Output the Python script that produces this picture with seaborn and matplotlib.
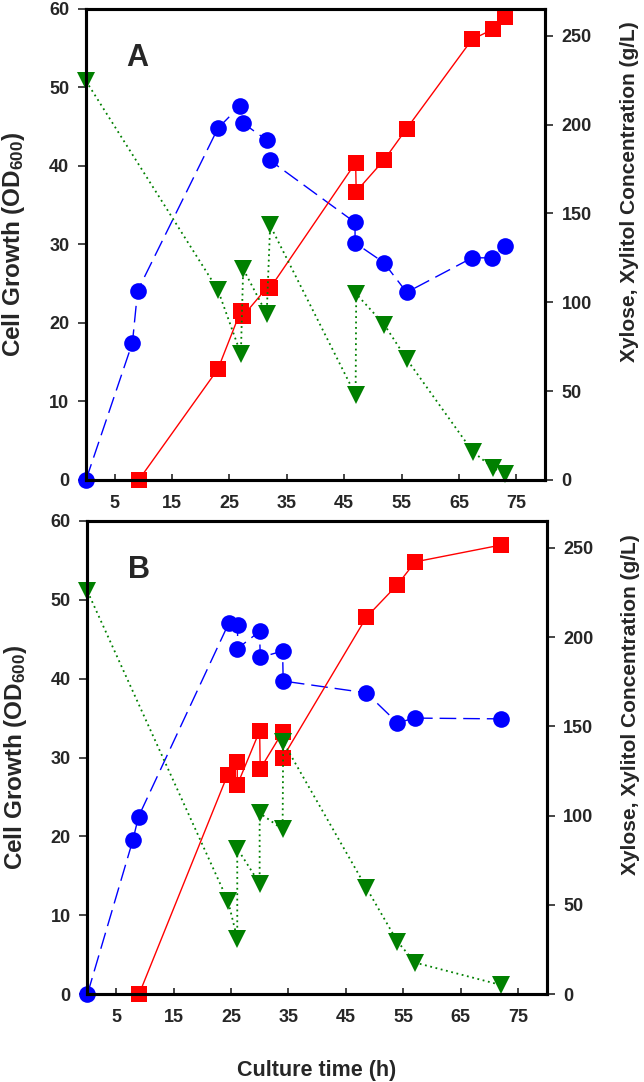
import matplotlib
matplotlib.use("Agg")
import matplotlib.pyplot as plt
import seaborn as sns

# ==========================================
# DATA
# ==========================================
# Panel A
tA_cell = [0, 8.1, 9.0, 23.0, 26.9, 27.3, 31.5, 32.1, 46.9, 46.9, 51.9, 55.9, 67.3, 70.8, 73.0]
odA = [0, 17.5, 24.1, 44.8, 47.7, 45.5, 43.3, 40.7, 32.8, 30.2, 27.7, 23.9, 28.3, 28.3, 29.8]
tA_xylitol = [9.2, 23.0, 27.0, 27.4, 31.7, 32.1, 47.0, 47.1, 52.0, 55.9, 67.3, 70.9, 73.0]
xylitolA = [0, 62.4, 95.3, 92.4, 108.8, 108.0, 178.5, 162.3, 180.2, 197.7, 247.9, 253.5, 260.3]
tA_xylose = [0, 23.0, 27.0, 27.4, 31.5, 32.1, 47.0, 47.1, 52.0, 55.9, 67.4, 70.9, 73.1]
xyloseA = [224.5, 106.9, 70.9, 118.8, 93.4, 143.2, 47.7, 104.7, 87.4, 68.0, 16.0, 6.9, 3.2]

# Panel B
tB_cell = [0, 7.9, 8.9, 24.6, 26.2, 26.1, 30.0, 30.1, 34.0, 34.1, 48.6, 54.0, 57.0, 72.0]
odB = [0, 19.5, 22.5, 47.0, 46.8, 43.8, 46.0, 42.7, 43.5, 39.7, 38.2, 34.4, 35.0, 34.9]
tB_xylitol = [9.0, 24.4, 26.1, 26.1, 30.0, 30.1, 34.0, 34.0, 48.6, 54.0, 57.1, 72.0]
xylitolB = [0, 122.7, 130.2, 117.1, 147.4, 126.1, 146.8, 132.3, 211.1, 229.3, 242.1, 251.5]
tB_xylose = [0, 24.5, 26.1, 26.1, 30.0, 30.0, 34.0, 34.1, 48.6, 54.0, 57.1, 72.0]
xyloseB = [225.6, 52.0, 31.0, 81.5, 61.9, 101.4, 92.3, 141.2, 59.5, 29.4, 17.6, 5.1]

x_ticks = [5, 15, 25, 35, 45, 55, 65, 75]
left_ticks = [0, 10, 20, 30, 40, 50, 60]
right_ticks = [0, 50, 100, 150, 200, 250]
panel_labels = ["A", "B"]

# ==========================================
# STYLE
# ==========================================
sns.set_style("ticks")
plt.rcParams['font.family'] = ['Liberation Sans', 'DejaVu Sans']
plt.rcParams['font.weight'] = 'bold'
plt.rcParams['mathtext.fontset'] = 'custom'
plt.rcParams['mathtext.rm'] = 'Liberation Sans:bold'
plt.rcParams['mathtext.default'] = 'rm'

fig = plt.figure(figsize=(6.44, 10.82), dpi=100)
ax_a = fig.add_axes([0.1335, 0.5564, 0.7127, 0.4353])
ax_b = fig.add_axes([0.1358, 0.0813, 0.7130, 0.4372])

panels = [
    (ax_a, tA_cell, odA, tA_xylitol, xylitolA, tA_xylose, xyloseA, panel_labels[0]),
    (ax_b, tB_cell, odB, tB_xylitol, xylitolB, tB_xylose, xyloseB, panel_labels[1]),
]

for ax, t_cell, od, t_xyl, xyl, t_xyo, xyo, lab in panels:
    ax2 = ax.twinx()

    # cell growth (left axis)
    sns.lineplot(x=t_cell, y=od, ax=ax, sort=False, estimator=None,
                 color="#0000ff", linewidth=1.0, linestyle=(0, (12, 5)),
                 marker="o", markersize=12, markeredgecolor="#0000ff",
                 markeredgewidth=0, clip_on=False)
    # xylitol (right axis)
    sns.lineplot(x=t_xyl, y=xyl, ax=ax2, sort=False, estimator=None,
                 color="#ff0000", linewidth=1.0, linestyle="-",
                 marker="s", markersize=11, markeredgecolor="#ff0000",
                 markeredgewidth=0, clip_on=False)
    # xylose (right axis)
    sns.lineplot(x=t_xyo, y=xyo, ax=ax2, sort=False, estimator=None,
                 color="#008000", linewidth=1.3, linestyle=(0, (1, 2)),
                 marker="v", markersize=13, markeredgecolor="#008000",
                 markeredgewidth=0, clip_on=False)

    ax.set_xlim(0, 80)
    ax.set_ylim(0, 60)
    ax2.set_ylim(0, 265)
    ax.set_xticks(x_ticks)
    ax.set_yticks(left_ticks)
    ax2.set_yticks(right_ticks)

    for a in (ax, ax2):
        for s in a.spines.values():
            s.set_visible(True)
            s.set_linewidth(2.2)
            s.set_color("black")

    ax.tick_params(axis="x", direction="in", length=4, width=1.2, pad=11,
                   labelsize=13)
    ax.tick_params(axis="y", direction="out", length=6, width=1.2, pad=6,
                   labelsize=13)
    ax2.tick_params(axis="y", direction="out", length=6, width=1.2, pad=6,
                    labelsize=13)

    ax.set_ylabel(r"Cell Growth (OD$_{600}$)", fontsize=17.5, fontweight="bold")
    ax.yaxis.set_label_coords(-0.128, 0.5)
    ax2.set_ylabel("Xylose, Xylitol Concentration (g/L)", fontsize=15,
                   fontweight="bold")
    ax2.yaxis.set_label_coords(1.163, 0.612)
    ax.set_xlabel("")
    ax.text(9.0, 53.8, lab, fontsize=22, fontweight="bold",
            ha="center", va="center")

ax_b.set_xlabel("Culture time (h)", fontsize=15.5, fontweight="bold")
ax_b.xaxis.set_label_coords(0.5, -0.139)

fig.savefig("out.png", dpi=100)
